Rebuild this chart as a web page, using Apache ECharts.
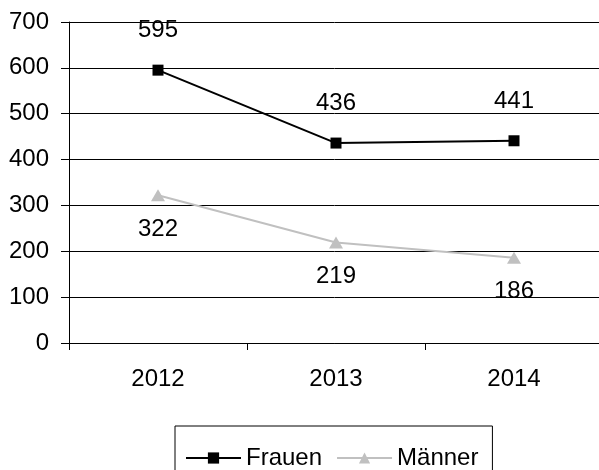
<!DOCTYPE html>
<html><head><meta charset="utf-8">
<script src="https://cdn.jsdelivr.net/npm/echarts@6/dist/echarts.min.js"></script>
<style>html,body{margin:0;padding:0;background:#fff}#c{width:599px;height:470px}</style>
</head><body><div id="c"></div>
<script>
var categories = ['2012', '2013', '2014'];
var frauen = [595, 436, 441];
var maenner = [322, 219, 186];
var yTicks = [0, 100, 200, 300, 400, 500, 600, 700];

var FONT = 'Liberation Sans, Arial, sans-serif';
var chart = echarts.init(document.getElementById('c'), null, {renderer: 'canvas'});
chart.setOption({
  animation: false,
  backgroundColor: '#fff',
  textStyle: {fontFamily: FONT},
  grid: {left: 69, top: 22, width: 534, height: 321, containLabel: false, outerBoundsMode: 'none'},
  xAxis: {
    type: 'category', data: categories, boundaryGap: true,
    axisLine: {lineStyle: {color: '#000', width: 1}},
    axisTick: {show: true, length: 7, lineStyle: {color: '#000'}},
    axisLabel: {fontSize: 24, color: '#000', margin: 24, fontFamily: FONT},
    splitLine: {show: false}
  },
  yAxis: {
    type: 'value', min: yTicks[0], max: yTicks[yTicks.length - 1], interval: 100,
    axisLine: {show: true, lineStyle: {color: '#000', width: 1}},
    axisTick: {show: true, length: 8, lineStyle: {color: '#000'}},
    axisLabel: {fontSize: 24, color: '#000', margin: 20, fontFamily: FONT},
    splitLine: {show: true, lineStyle: {color: '#000', width: 1}}
  },
  legend: {
    left: 175, top: 426,
    width: 310,
    padding: [20, 14, 20, 10],
    borderColor: '#000', borderWidth: 1,
    itemWidth: 55, itemHeight: 14, itemGap: 14,
    textStyle: {fontSize: 24, color: '#000', fontFamily: FONT},
    data: ['Frauen', 'Männer']
  },
  series: [
    {
      name: 'Frauen', type: 'line', data: frauen,
      symbol: 'rect', symbolSize: 11,
      lineStyle: {color: '#000', width: 2},
      itemStyle: {color: '#000'},
      label: {show: true, position: 'top', distance: 22, fontSize: 24, color: '#000', fontFamily: FONT}
    },
    {
      name: 'Männer', type: 'line', data: maenner,
      symbol: 'triangle', symbolSize: [14, 12],
      lineStyle: {color: '#c0c0c0', width: 2},
      itemStyle: {color: '#c0c0c0'},
      label: {show: true, position: 'bottom', distance: 16, fontSize: 24, color: '#000', fontFamily: FONT}
    }
  ]
});
</script>
</body></html>
